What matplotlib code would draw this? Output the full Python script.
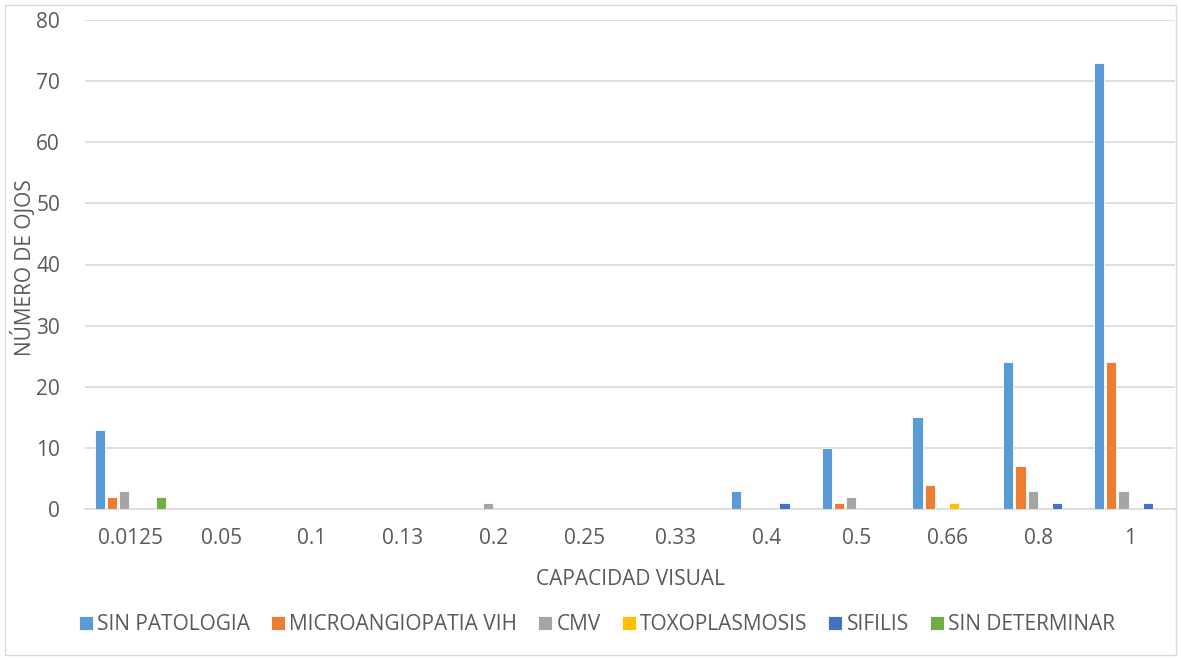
import matplotlib
matplotlib.use("Agg")

import matplotlib.pyplot as plt
from matplotlib.patches import Rectangle
import numpy as np

categories = ["0.0125", "0.05", "0.1", "0.13", "0.2", "0.25", "0.33", "0.4", "0.5", "0.66", "0.8", "1"]

sin_patologia = [13, 0, 0, 0, 0, 0, 0, 3, 10, 15, 24, 73]
microangiopatia = [2, 0, 0, 0, 0, 0, 0, 0, 1, 4, 7, 24]
cmv = [3, 0, 0, 0, 1, 0, 0, 0, 2, 0, 3, 3]
toxoplasmosis = [0, 0, 0, 0, 0, 0, 0, 0, 0, 1, 0, 0]
sifilis = [0, 0, 0, 0, 0, 0, 0, 1, 0, 0, 1, 1]
sin_determinar = [2, 0, 0, 0, 0, 0, 0, 0, 0, 0, 0, 0]

series_names = ["SIN PATOLOGIA", "MICROANGIOPATIA VIH", "CMV", "TOXOPLASMOSIS", "SIFILIS", "SIN DETERMINAR"]
colors = ["#5B9BD5", "#ED7D31", "#A5A5A5", "#FFC000", "#4472C4", "#70AD47"]

plt.rcParams["font.family"] = ["Open Sans", "DejaVu Sans"]
text_color = "#595959"
fs = 15

fig = plt.figure(figsize=(11.81, 6.6), dpi=100)
ax = fig.add_axes([85 / 1181, 1 - 509 / 660, 1090 / 1181, 489 / 660])

x = np.arange(len(categories))
pitch = 0.134
width = 0.112
all_series = [sin_patologia, microangiopatia, cmv, toxoplasmosis, sifilis, sin_determinar]
for i, (vals, name, col) in enumerate(zip(all_series, series_names, colors)):
    ax.bar(x + (i - 2.5) * pitch, vals, width, color=col, label=name,
           edgecolor="white", linewidth=0.6, zorder=3)

ax.set_xlim(-0.5, len(categories) - 0.5)
ax.set_ylim(0, 80)
ax.set_yticks(range(0, 81, 10))
ax.set_xticks(x)
ax.set_xticklabels(categories)
ax.yaxis.grid(True, color="#d9d9d9", linewidth=1.2, zorder=0)
for s in ["top", "right", "left"]:
    ax.spines[s].set_visible(False)
ax.spines["bottom"].set_color("#d9d9d9")
ax.spines["bottom"].set_linewidth(1.2)
ax.tick_params(axis="both", length=0, labelsize=fs, colors=text_color)
ax.tick_params(axis="x", pad=14)
ax.tick_params(axis="y", pad=18)

ax.set_xlabel("CAPACIDAD VISUAL", fontsize=fs, color=text_color, labelpad=14)
fig.text(24 / 1181, 1 - 268 / 660, "NÚMERO DE OJOS", rotation=90, fontsize=fs,
         color=text_color, ha="center", va="center")

fig.legend(loc="center left", bbox_to_anchor=(60 / 1181, 1 - 625 / 660), ncol=6,
           frameon=False, fontsize=fs, labelcolor=text_color,
           handlelength=0.68, handleheight=0.68, handletextpad=0.2, columnspacing=1.0)

fig.patches.append(Rectangle((5 / 1181, 5 / 660), 1171 / 1181, 650 / 660,
                             transform=fig.transFigure, fill=False,
                             edgecolor="#d9d9d9", linewidth=1))

fig.savefig("out.png", dpi=100)
